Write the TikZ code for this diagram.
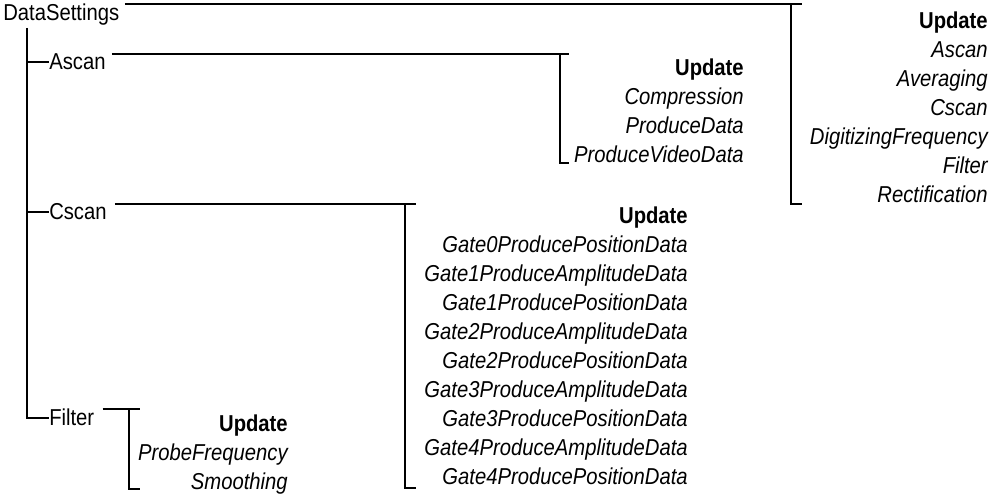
\documentclass[tikz,border=0pt]{standalone}
\usepackage{fontspec}
\setmainfont{Liberation Sans}[FakeStretch=0.88]
\newcommand{\updhead}{\textbf{\upshape Update}}

\begin{document}
\begin{tikzpicture}[
    x=0.75pt, y=-0.75pt,
    txt/.style={inner sep=0pt, font=\fontsize{17.25}{21.75}\selectfont},
    item/.style={txt, anchor=base west},
    list/.style={txt, anchor=north east, align=right, font=\fontsize{17.25}{21.75}\selectfont\itshape},
    link/.style={line width=1.4pt}
]
\useasboundingbox (0,0) rectangle (993,495);

% Nodes
\node[item] (root) at (3,21) {DataSettings};
\node[item] (ascan) at (49,70) {Ascan};
\node[item] (cscan) at (49,220) {Cscan};
\node[item] (filter) at (49,426) {Filter};

\node[list] (rootList) at (988,12) {\updhead\\Ascan\\Averaging\\Cscan\\DigitizingFrequency\\Filter\\Rectification};
\node[list] (ascanList) at (744,59) {\updhead\\Compression\\ProduceData\\ProduceVideoData};
\node[list] (cscanList) at (688,207) {\updhead\\Gate0ProducePositionData\\Gate1ProduceAmplitudeData\\Gate1ProducePositionData\\Gate2ProduceAmplitudeData\\Gate2ProducePositionData\\Gate3ProduceAmplitudeData\\Gate3ProducePositionData\\Gate4ProduceAmplitudeData\\Gate4ProducePositionData};
\node[list] (filterList) at (288,415) {\updhead\\ProbeFrequency\\Smoothing};

% Bracket corners
\coordinate (treeTop) at (27,28);
\coordinate (rootV) at (791,204);
\coordinate (rootE) at (802,204);
\coordinate (ascanV) at (560,163);
\coordinate (ascanE) at (569,163);
\coordinate (cscanV) at (405,488);
\coordinate (cscanE) at (416,488);
\coordinate (filterV) at (129,489);
\coordinate (filterE) at (140,489);

% Tree
\draw[link] (treeTop) |- (filter.west);
\draw[link] (treeTop |- ascan.west) -- (ascan.west);
\draw[link] (treeTop |- cscan.west) -- (cscan.west);

% Brackets
\draw[link] ([xshift=4pt]root.north east) -- (rootE |- root.north);
\draw[link] (rootV |- root.north) -- (rootV) -- (rootE);
\draw[link] ([xshift=4.5pt]ascan.north east) -- (ascanE |- ascan.north);
\draw[link] (ascanV |- ascan.north) -- (ascanV) -- (ascanE);
\draw[link] ([xshift=6pt]cscan.north east) -- (cscanE |- cscan.north);
\draw[link] (cscanV |- cscan.north) -- (cscanV) -- (cscanE);
\draw[link] ([xshift=6pt]filter.north east) -- (filterE |- filter.north);
\draw[link] (filterV |- filter.north) -- (filterV) -- (filterE);

\end{tikzpicture}
\end{document}
